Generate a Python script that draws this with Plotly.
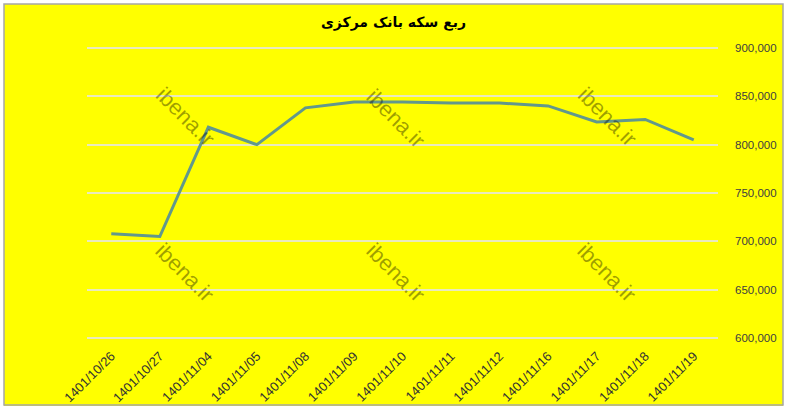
import plotly.graph_objects as go

dates = ["1401/10/26", "1401/10/27", "1401/11/04", "1401/11/05", "1401/11/08", "1401/11/09",
         "1401/11/10", "1401/11/11", "1401/11/12", "1401/11/16", "1401/11/17", "1401/11/18", "1401/11/19"]
prices = [708000, 705000, 818000, 800000, 838000, 844000, 844000, 843000, 843000, 840000, 823500, 826000, 805000]
y_ticks = [600000, 650000, 700000, 750000, 800000, 850000, 900000]
title_text = "ربع سکه بانک مرکزی"
watermark = "ibena.ir"

W, H = 787, 410
# a few px of slack above and below so the 600k / 900k grid lines are not clipped
left, right, top, bottom = 87, 69, 45, 69
pw, ph = W - left - right, H - top - bottom


def px(x):
    return (x - left) / pw


def py(y):
    return (H - bottom - y) / ph


fig = go.Figure()
fig.add_trace(go.Scatter(
    x = dates,
    y = prices,
    mode = "lines",
    line = dict(color = "#62988c", width = 3),
    hoverinfo = "x+y"
))

# watermark stamps
marks = [(185, 117), (396, 118), (607, 117), (185, 272), (396, 272), (607, 272)]
for mx, my in marks:
    fig.add_annotation(
        x = px(mx), y = py(my), xref = "paper", yref = "paper",
        xanchor = "center", yanchor = "middle",
        text = watermark, showarrow = False, textangle = 45,
        font = dict(family = "Liberation Sans, Arial", size = 22, color = "rgba(0,0,0,0.38)")
    )

# white strip outside the excel chart area, then its gray frame
fig.add_shape(
    type = "rect", xref = "paper", yref = "paper",
    x0 = px(0), x1 = px(W), y0 = py(H), y1 = py(0),
    line = dict(color = "white", width = 8), layer = "above"
)
fig.add_shape(
    type = "rect", xref = "paper", yref = "paper",
    x0 = px(4), x1 = px(783), y0 = py(405), y1 = py(4),
    line = dict(color = "#a6a6a6", width = 1.5), layer = "above"
)

fig.update_layout(
    width = W, height = H,
    template = "none",
    paper_bgcolor = "#ffff00",
    plot_bgcolor = "#ffff00",
    margin = dict(l = left, r = right, t = top, b = bottom, autoexpand = False),
    showlegend = False,
    title = dict(
        text = "<b>" + title_text + "</b>", x = 0.5, xanchor = "center",
        y = 1 - 22 / H, yanchor = "middle",
        font = dict(family = "DejaVu Sans", size = 14, color = "#000000")
    ),
    xaxis = dict(
        type = "category", range = [-0.5, len(dates) - 0.5],
        tickangle = -45, showgrid = False, showline = False, zeroline = False,
        ticks = "", automargin = False, ticklabelstandoff = 4,
        tickfont = dict(family = "Liberation Sans, Arial", size = 13, color = "#333333")
    ),
    yaxis = dict(
        side = "right", range = [597000, 903000], tickvals = y_ticks,
        tickformat = ",", showgrid = True, gridcolor = "#eaeabc", gridwidth = 2,
        zeroline = False, showline = False, ticks = "", automargin = False,
        ticklabelstandoff = 16,
        tickfont = dict(family = "Liberation Sans, Arial", size = 11.5, color = "#404040")
    )
)

fig.write_html("out.html", config = {"displayModeBar": False},
               post_script = "document.body.style.margin = '0';")
